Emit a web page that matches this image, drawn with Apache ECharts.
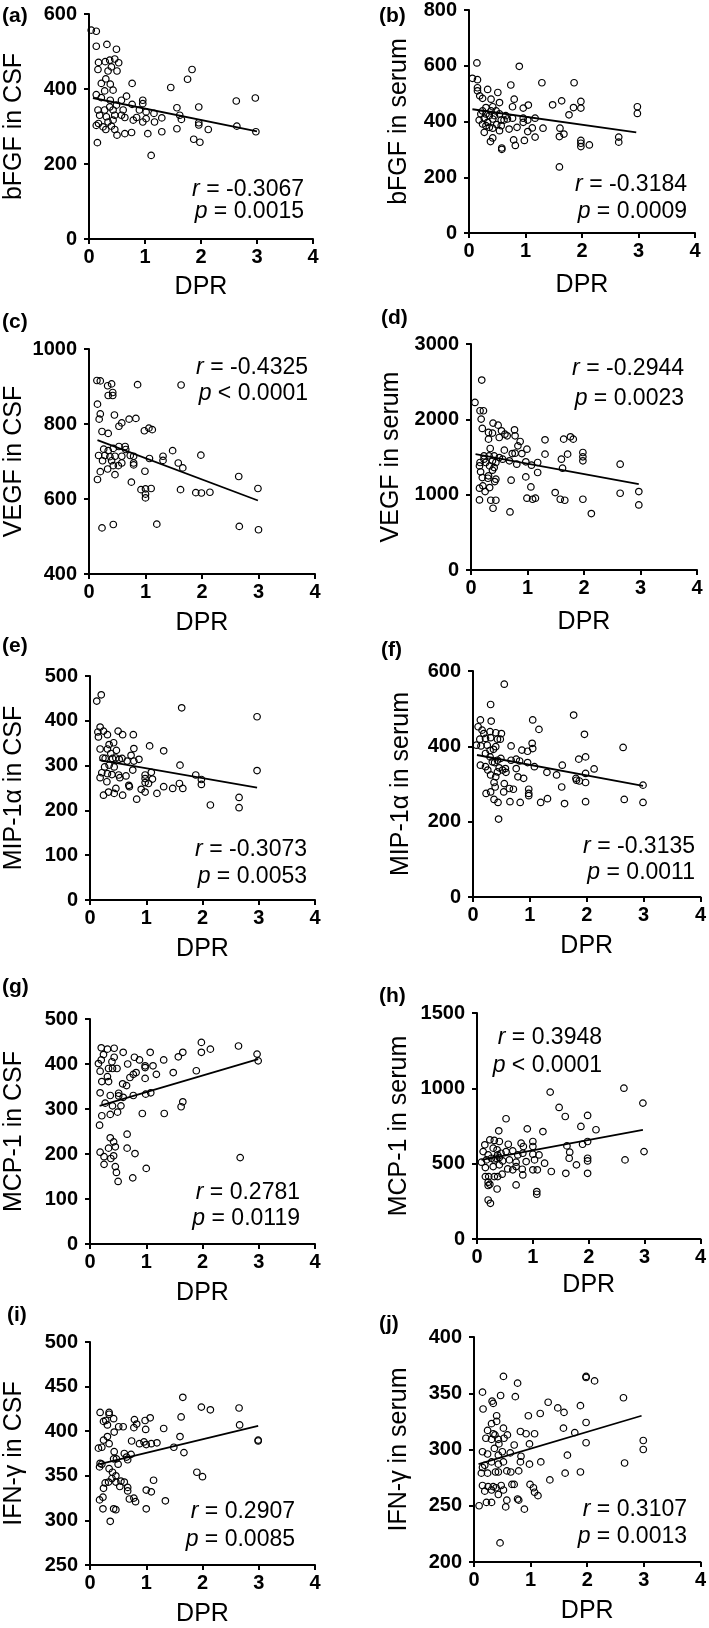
<!DOCTYPE html>
<html><head><meta charset="utf-8">
<script src="https://cdn.jsdelivr.net/npm/echarts@6/dist/echarts.min.js"></script>
<style>html,body{margin:0;padding:0;background:#fff}#c{width:709px;height:1628px}</style>
</head><body><div id="c"></div>
<script>
// ---------- DATA ----------
const xTicks = [0, 1, 2, 3, 4];
const panelLabels = ['(a)','(b)','(c)','(d)','(e)','(f)','(g)','(h)','(i)','(j)'];
const yNames = ['bFGF in CSF','bFGF in serum','VEGF in CSF','VEGF in serum','MIP-1α in CSF','MIP-1α in serum','MCP-1 in CSF','MCP-1 in serum','IFN-γ in CSF','IFN-γ in serum'];
const xName = 'DPR';
const rValues = ['-0.3067','-0.3184','-0.4325','-0.2944','-0.3073','-0.3135','0.2781','0.3948','0.2907','0.3107'];
const pOps = ['=','=','<','=','=','=','=','<','=','='];
const pValues = ['0.0015','0.0009','0.0001','0.0023','0.0053','0.0011','0.0119','0.0001','0.0085','0.0013'];
const yMins = [0, 0, 400, 0, 0, 0, 0, 0, 250, 200];
const yMaxs = [600, 800, 1000, 3000, 500, 600, 500, 1500, 500, 400];
const yIntervals = [200, 200, 200, 1000, 100, 200, 100, 500, 50, 50];

const dataA = [[0.04,557],[0.13,554],[0.13,514],[0.32,519],[0.49,506],[0.17,471],[0.16,452],[0.29,473],[0.37,477],[0.46,480],[0.53,470],[0.34,448],[0.50,448],[0.40,459],[0.30,427],[0.22,415],[0.38,413],[0.77,415],[1.84,452],[1.76,426],[1.46,404],[0.43,397],[0.28,395],[0.13,385],[0.22,377],[0.67,381],[2.63,368],[2.97,376],[0.96,370],[0.96,361],[0.58,370],[0.38,370],[0.77,359],[0.49,357],[1.57,350],[1.96,352],[0.16,344],[0.28,344],[0.43,344],[0.61,344],[0.90,344],[1.02,339],[1.16,335],[0.19,330],[0.31,326],[0.46,330],[0.64,324],[0.85,324],[1.62,330],[1.65,319],[1.30,323],[1.02,321],[0.96,312],[1.17,312],[0.79,317],[0.17,308],[0.13,303],[0.34,312],[0.43,317],[0.25,299],[0.40,301],[1.96,310],[1.96,304],[2.13,292],[2.64,301],[1.30,286],[1.57,294],[1.05,281],[0.64,281],[0.76,284],[0.50,277],[0.30,292],[0.46,292],[2.98,286],[0.15,257],[1.87,266],[1.98,258],[1.11,223],[0.58,330],[0.37,352]];
const trendA = [[0.07,376],[3.0,287]];

const dataB = [[0.14,610],[0.06,555],[0.15,550],[0.89,598],[1.29,539],[1.86,539],[0.74,531],[0.15,521],[0.33,515],[0.15,510],[0.51,504],[0.19,492],[0.24,483],[0.39,480],[0.80,480],[1.64,474],[1.98,472],[0.54,468],[1.48,460],[1.05,459],[2.98,453],[0.77,453],[0.96,448],[1.85,450],[1.98,448],[0.30,450],[0.42,453],[0.48,438],[2.98,429],[1.77,424],[0.21,427],[0.36,421],[0.54,427],[0.65,421],[1.17,412],[0.27,412],[0.42,409],[0.57,405],[0.68,409],[0.77,412],[0.96,412],[1.04,405],[0.18,405],[0.33,397],[0.30,385],[0.49,389],[0.71,373],[0.85,379],[0.96,397],[1.12,377],[1.31,376],[1.61,376],[0.42,376],[1.04,364],[1.68,355],[1.60,346],[1.17,344],[0.42,341],[0.79,334],[0.98,332],[0.38,328],[2.65,344],[2.65,326],[1.98,332],[1.98,322],[1.98,310],[2.13,316],[0.82,314],[0.58,305],[0.58,300],[1.60,237],[0.27,361],[0.54,367],[0.24,438],[0.30,427],[0.39,438],[0.45,421],[0.24,391],[0.36,379],[0.57,385],[0.62,405]];
const trendB = [[0.06,444],[2.96,361]];

const dataC = [[0.14,916],[0.20,915],[0.33,902],[0.40,907],[0.42,884],[0.34,876],[0.42,876],[0.86,905],[1.63,904],[0.15,853],[0.20,827],[0.18,813],[0.45,824],[0.58,803],[0.53,794],[0.71,813],[0.83,815],[0.23,780],[0.34,775],[0.98,782],[1.06,789],[1.12,785],[0.17,716],[0.26,733],[0.34,729],[0.43,735],[0.53,740],[0.64,740],[0.65,732],[0.28,716],[0.37,713],[0.46,714],[0.58,714],[0.73,716],[0.79,714],[0.24,702],[0.40,702],[0.33,680],[0.20,673],[0.43,689],[0.52,689],[0.58,696],[0.79,696],[0.79,691],[1.07,708],[1.31,714],[1.31,703],[1.48,729],[1.58,696],[1.66,683],[1.98,717],[0.99,674],[0.46,665],[0.15,652],[0.75,645],[2.65,660],[2.99,628],[0.92,625],[1.00,627],[1.10,628],[1.62,625],[1.89,617],[1.99,616],[2.14,618],[1.00,613],[1.00,603],[0.23,523],[0.43,532],[1.20,533],[2.66,527],[3.00,518]];
const trendC = [[0.15,757],[2.99,596]];

const dataD = [[0.19,2521],[0.07,2224],[0.16,2114],[0.22,2114],[0.18,2003],[0.20,1879],[0.39,1950],[0.48,1923],[0.31,1826],[0.38,1817],[0.54,1848],[0.60,1803],[0.77,1861],[0.78,1781],[0.64,1781],[0.50,1759],[0.31,1737],[1.31,1728],[1.81,1737],[1.64,1737],[1.76,1768],[0.87,1706],[0.83,1648],[0.34,1613],[0.59,1591],[0.99,1604],[0.78,1551],[0.73,1546],[0.90,1546],[1.31,1538],[1.71,1538],[1.98,1560],[1.98,1502],[1.98,1449],[1.60,1471],[2.64,1405],[0.16,1427],[0.23,1471],[0.32,1515],[0.41,1515],[0.50,1493],[0.23,1515],[0.26,1427],[0.38,1449],[0.44,1427],[0.56,1471],[0.68,1449],[0.81,1405],[0.97,1436],[1.07,1391],[1.18,1427],[1.62,1351],[0.15,1382],[0.33,1382],[0.41,1360],[0.17,1303],[0.38,1325],[1.18,1294],[0.31,1250],[0.30,1218],[0.20,1227],[0.44,1205],[0.42,1174],[0.71,1192],[0.97,1236],[0.33,1094],[0.15,1086],[0.21,1117],[0.25,1041],[1.06,1103],[1.49,1028],[2.64,1019],[2.97,1041],[0.15,930],[0.35,926],[0.44,926],[0.99,953],[1.09,939],[1.14,953],[1.58,939],[1.66,926],[1.98,939],[2.97,864],[0.39,820],[0.69,771],[2.13,749]];
const trendD = [[0.08,1538],[2.97,1139]];

const dataE = [[0.12,444],[0.20,458],[0.14,375],[0.18,386],[0.15,364],[0.24,377],[0.31,369],[0.50,377],[0.58,369],[0.77,369],[1.63,429],[2.97,409],[0.18,337],[0.23,317],[0.31,337],[0.34,347],[0.42,351],[0.47,334],[0.37,327],[0.46,317],[0.27,316],[0.40,316],[0.52,314],[0.57,316],[0.66,310],[0.73,323],[0.78,338],[0.87,314],[0.78,310],[1.06,344],[1.31,333],[0.34,301],[0.43,297],[0.26,297],[0.76,290],[0.21,284],[0.18,273],[0.31,282],[0.39,280],[0.51,279],[0.53,273],[0.64,277],[0.69,256],[0.70,253],[0.98,279],[1.09,285],[0.98,271],[1.11,270],[0.98,262],[1.04,260],[1.60,301],[1.88,279],[1.98,269],[1.98,258],[1.59,260],[1.65,249],[1.47,249],[1.31,253],[1.19,238],[0.98,241],[0.91,247],[0.83,225],[0.46,249],[0.43,238],[0.33,241],[0.24,234],[0.58,234],[0.30,264],[2.97,289],[2.14,212],[2.65,229],[2.65,206]];
const trendE = [[0.17,312],[2.97,251]];

const dataF = [[0.55,565],[0.31,511],[1.77,483],[0.13,470],[0.32,467],[1.05,470],[1.16,445],[1.96,432],[2.64,397],[0.09,452],[0.16,443],[0.19,434],[0.30,439],[0.40,436],[0.50,434],[0.12,419],[0.22,421],[0.31,423],[0.43,419],[0.48,419],[0.06,403],[0.14,401],[0.25,403],[0.40,399],[0.67,401],[1.04,408],[1.05,394],[0.96,387],[0.86,390],[0.30,389],[0.36,392],[0.22,381],[0.30,372],[0.43,363],[0.13,350],[0.22,346],[0.34,359],[0.49,368],[0.67,363],[0.76,366],[0.82,361],[0.76,341],[0.96,357],[1.08,346],[0.38,357],[0.46,343],[0.57,341],[0.58,331],[0.26,337],[0.31,324],[0.40,319],[0.43,332],[0.52,337],[1.30,331],[1.47,324],[1.57,350],[1.81,315],[1.82,310],[1.86,366],[1.98,372],[1.98,328],[2.13,340],[1.98,304],[1.87,308],[0.79,319],[0.89,315],[0.37,304],[0.55,301],[0.64,288],[0.71,286],[0.39,292],[1.56,292],[0.98,286],[0.98,275],[0.98,269],[0.23,275],[0.31,279],[0.54,279],[0.37,259],[0.44,251],[0.65,253],[0.83,251],[1.19,251],[1.31,261],[1.61,248],[1.98,253],[2.66,259],[2.99,297],[2.99,251],[0.45,207]];
const trendF = [[0.07,377],[2.99,295]];

const dataG = [[0.20,436],[0.31,433],[0.43,435],[0.24,421],[0.59,426],[1.07,426],[1.98,448],[2.14,433],[2.64,440],[2.97,422],[2.99,407],[1.98,426],[1.65,426],[1.57,416],[0.43,415],[0.79,415],[0.88,409],[1.31,409],[0.20,409],[0.15,401],[0.39,405],[0.48,390],[0.67,400],[0.98,396],[1.12,396],[0.98,392],[0.33,390],[0.40,390],[0.18,384],[1.48,381],[1.89,385],[0.82,381],[0.77,377],[0.71,370],[1.18,377],[0.31,372],[0.98,368],[0.21,361],[0.33,361],[0.58,356],[0.65,352],[0.18,336],[0.36,330],[0.51,335],[0.51,329],[0.77,330],[0.99,333],[1.08,336],[0.59,326],[0.27,313],[0.40,307],[0.55,307],[1.65,316],[1.62,305],[0.21,285],[0.36,288],[0.49,293],[0.93,290],[1.32,290],[0.17,264],[0.36,236],[0.66,244],[0.42,227],[0.45,216],[0.33,213],[0.66,213],[0.18,204],[0.80,201],[0.25,194],[0.37,190],[0.42,196],[0.25,177],[0.45,172],[0.47,159],[0.50,139],[0.76,147],[1.00,168],[2.67,192]];
const trendG = [[0.17,307],[2.99,411]];

const dataH = [[2.63,1001],[1.31,975],[2.97,902],[1.47,873],[1.58,813],[1.98,820],[0.52,798],[1.86,747],[0.90,731],[2.13,725],[1.18,713],[0.39,718],[0.14,625],[0.23,658],[0.31,654],[0.40,647],[0.56,629],[0.79,636],[1.00,647],[1.00,614],[1.61,618],[1.89,629],[1.98,647],[0.11,580],[0.20,558],[0.29,603],[0.36,592],[0.43,569],[0.52,580],[0.64,585],[0.83,614],[0.73,558],[0.82,569],[1.00,563],[1.11,558],[1.66,576],[1.65,536],[1.98,536],[1.98,518],[1.78,492],[0.08,510],[0.17,525],[0.26,536],[0.31,525],[0.40,541],[0.46,518],[0.58,525],[0.70,510],[0.88,514],[1.03,525],[1.21,503],[2.65,525],[2.99,580],[0.15,474],[0.29,481],[0.40,492],[0.55,465],[0.70,481],[0.81,463],[1.00,459],[1.08,459],[1.33,448],[1.59,436],[1.98,436],[0.15,414],[0.21,414],[0.31,414],[0.37,414],[0.45,430],[0.64,459],[0.82,425],[0.20,377],[0.20,355],[0.23,363],[0.36,332],[0.70,359],[1.07,315],[1.07,297],[0.20,259],[0.24,237],[0.34,536],[0.37,558]];
const trendH = [[0.08,525],[2.97,725]];

const dataI = [[1.65,438],[1.98,427],[2.14,424],[2.65,426],[2.66,407],[0.18,421],[0.34,421],[0.34,419],[0.24,411],[0.42,414],[0.31,407],[0.28,412],[0.79,413],[0.98,412],[1.07,415],[1.62,416],[0.83,408],[0.51,405],[0.59,405],[0.78,404],[1.31,403],[0.99,402],[0.43,399],[0.31,394],[0.24,390],[0.74,389],[0.88,386],[0.96,388],[1.00,385],[1.09,386],[1.19,387],[1.60,394],[1.49,382],[2.99,390],[2.99,389],[0.15,381],[0.21,382],[0.34,386],[0.43,377],[0.61,375],[0.73,374],[1.67,376],[0.18,364],[0.21,363],[0.42,369],[0.47,369],[0.50,363],[0.65,371],[0.67,368],[0.17,360],[0.34,358],[0.40,354],[0.46,350],[0.39,347],[0.27,342],[0.33,343],[0.46,343],[0.55,344],[0.61,343],[0.53,338],[0.67,337],[0.24,336],[0.67,333],[1.13,345],[1.90,354],[2.00,349],[1.00,334],[1.09,332],[0.70,324],[0.78,325],[0.81,321],[1.34,322],[0.17,323],[0.23,326],[0.23,313],[0.42,313],[0.46,312],[1.00,313],[0.36,299]];
const trendI = [[0.17,363],[2.99,406]];

const dataJ = [[0.52,365],[0.77,359],[1.98,365],[1.98,364],[2.13,361],[0.15,351],[0.47,348],[0.73,347],[2.64,346],[0.32,343],[0.34,341],[1.31,342],[1.48,337],[1.59,333],[1.88,339],[0.16,336],[0.40,330],[0.96,330],[1.17,332],[0.40,325],[0.31,323],[1.98,324],[0.52,319],[0.24,317],[0.34,314],[0.37,313],[0.59,313],[0.82,316],[0.92,314],[1.07,314],[1.58,319],[1.78,315],[0.21,310],[0.31,309],[0.43,309],[0.53,310],[0.44,305],[0.71,304],[0.98,305],[1.98,306],[2.99,308],[2.99,300],[0.15,298],[0.24,296],[0.36,301],[0.43,295],[0.50,298],[0.64,297],[0.83,294],[1.65,295],[0.15,284],[0.19,286],[0.31,289],[0.43,287],[0.52,289],[0.82,289],[0.98,287],[1.18,289],[2.66,288],[0.13,279],[0.24,279],[0.38,280],[0.43,280],[0.58,281],[0.65,280],[0.79,281],[1.34,273],[1.61,279],[1.88,280],[0.15,268],[0.25,267],[0.34,267],[0.39,266],[0.48,268],[0.67,269],[0.71,269],[0.99,269],[1.05,266],[0.19,263],[0.31,264],[0.43,260],[0.52,264],[1.07,262],[1.13,259],[0.58,255],[0.77,256],[0.79,255],[0.09,250],[0.22,253],[0.31,253],[0.56,249],[0.89,247],[0.46,217]];
const trendJ = [[0.08,287],[2.96,330]];

const allData = [dataA,dataB,dataC,dataD,dataE,dataF,dataG,dataH,dataI,dataJ];
const allTrends = [trendA,trendB,trendC,trendD,trendE,trendF,trendG,trendH,trendI,trendJ];

// ---------- LAYOUT ----------
const W = 709;
const grids = [
  [89,14,224,225],[469,8,226,225],
  [89,349,226,225],[471,344,226,226],
  [90,676,225,224],[473,671,228,226],
  [90,1019,225,225],[477,1013,225,226],
  [90,1342,225,226],[474,1337,227,225]
];
const yNameGaps = [62,57,62,67,63,59,63,65,63,62];
const xNameGaps = [36,40,37,40,37,37,37,34,37,37];
const labelPos = [[2,4],[379,4],[2,310],[381,306],[2,634],[381,638],[2,975],[379,984],[7,1303],[379,1312]];
// [right edge x, top of r line, top of p line]
const statPos = [[304,177,199],[687,172,199],[308,355,381],[684,356,386],[307,837,864],[695,834,860],[300,1180,1206],[602,1025,1053],[295,1499,1527],[687,1497,1524]];

const FONT = '"Liberation Sans", Arial, Helvetica, sans-serif';
const option = {
  animation: false,
  backgroundColor: '#fff',
  grid: [], xAxis: [], yAxis: [], series: [], title: []
};
for (let k = 0; k < 10; k++) {
  const g = grids[k];
  option.grid.push({left: g[0], top: g[1], width: g[2], height: g[3], containLabel: false});
  option.xAxis.push({
    gridIndex: k, type: 'value', min: xTicks[0], max: xTicks[xTicks.length-1], interval: 1,
    name: xName, nameLocation: 'middle', nameGap: xNameGaps[k],
    nameTextStyle: {fontFamily: FONT, fontSize: 25, color: '#000'},
    axisLine: {onZero: false, lineStyle: {color: '#000', width: 2}},
    axisTick: {show: true, length: 5, lineStyle: {color: '#000', width: 2}},
    axisLabel: {fontFamily: FONT, fontSize: 20, fontWeight: 'bold', color: '#000', margin: 8, formatter: v => String(v)},
    splitLine: {show: false}
  });
  option.yAxis.push({
    gridIndex: k, type: 'value', min: yMins[k], max: yMaxs[k], interval: yIntervals[k],
    name: yNames[k], nameLocation: 'middle', nameGap: yNameGaps[k], nameRotate: 90,
    nameTextStyle: {fontFamily: FONT, fontSize: 25, color: '#000'},
    axisLine: {show: true, onZero: false, lineStyle: {color: '#000', width: 2}},
    axisTick: {show: true, length: 5, lineStyle: {color: '#000', width: 2}},
    axisLabel: {fontFamily: FONT, fontSize: 20, fontWeight: 'bold', color: '#000', margin: 12, formatter: v => String(v)},
    splitLine: {show: false}
  });
  option.series.push({
    type: 'scatter', xAxisIndex: k, yAxisIndex: k, data: allData[k],
    symbol: 'circle', symbolSize: 6.5, silent: true,
    itemStyle: {color: 'rgba(255,255,255,0)', borderColor: '#000', borderWidth: 1.2, opacity: 1}
  });
  option.series.push({
    type: 'line', xAxisIndex: k, yAxisIndex: k, data: allTrends[k],
    symbol: 'none', silent: true, lineStyle: {color: '#000', width: 1.8}
  });
  option.title.push({
    text: panelLabels[k], left: labelPos[k][0], top: labelPos[k][1], padding: 0,
    textStyle: {fontFamily: FONT, fontSize: 21, fontWeight: 'bold', color: '#000', lineHeight: 24}
  });
  const sp = statPos[k];
  const rich = {i: {fontFamily: FONT, fontSize: 23, fontStyle: 'italic', color: '#000', lineHeight: 26},
                n: {fontFamily: FONT, fontSize: 23, color: '#000', lineHeight: 26}};
  option.title.push({
    text: '{i|r}{n| = ' + rValues[k] + '}', right: W - sp[0], top: sp[1], padding: 0,
    textStyle: {fontFamily: FONT, fontSize: 23, fontWeight: 'normal', color: '#000', rich: rich}
  });
  option.title.push({
    text: '{i|p}{n| ' + pOps[k] + ' ' + pValues[k] + '}', right: W - sp[0], top: sp[2], padding: 0,
    textStyle: {fontFamily: FONT, fontSize: 23, fontWeight: 'normal', color: '#000', rich: rich}
  });
}
const chart = echarts.init(document.getElementById('c'), null, {renderer: 'canvas', width: 709, height: 1628});
chart.setOption(option);
</script>
</body></html>
